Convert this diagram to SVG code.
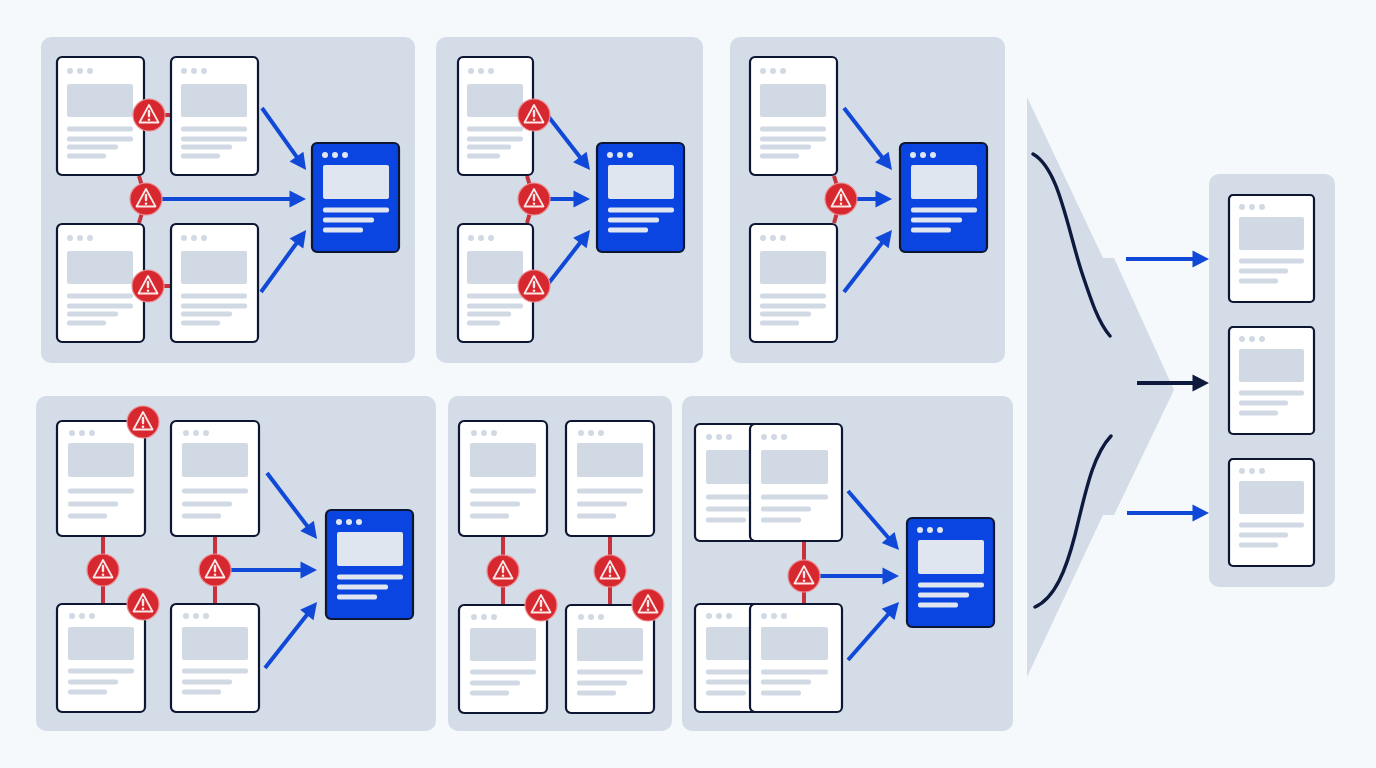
<svg xmlns="http://www.w3.org/2000/svg" width="1376" height="768" viewBox="0 0 1376 768">
<style>
.panel{fill:#d3dce7}
.card{fill:#fff;stroke:#0d1733;stroke-width:2.2}
.blue{fill:#0a45e2;stroke:#0d1733;stroke-width:2.2}
.g{fill:#d1d9e4}
.w{fill:#dfe6f0}
.arrow{fill:none;stroke:#1048d8;stroke-width:4;marker-end:url(#ah)}
.darrow{fill:none;stroke:#0d1a3e;stroke-width:4;marker-end:url(#ahd)}
.red{fill:none;stroke:#c8323c;stroke-width:4}
.curve{fill:none;stroke:#0d1a3e;stroke-width:3.4;stroke-linecap:round}
.bc{fill:#d7282f;stroke:#eb8f94;stroke-width:1.2}
.bt{fill:none;stroke:#fbe9e9;stroke-width:1.8;stroke-linejoin:round}
.bb{stroke:#fbe9e9;stroke-width:2.4;stroke-linecap:round}
.bd{fill:#fbe9e9}
</style>
<defs>
<marker id="ah" markerUnits="userSpaceOnUse" markerWidth="18" markerHeight="18" refX="10" refY="9" orient="auto"><path d="M0.5 0.5L17 9L0.5 17.5Z" fill="#1048d8"/></marker>
<marker id="ahd" markerUnits="userSpaceOnUse" markerWidth="18" markerHeight="18" refX="10" refY="9" orient="auto"><path d="M0.5 0.5L17 9L0.5 17.5Z" fill="#0d1a3e"/></marker>
<g id="dots"><circle cx="0" cy="0" r="3"/><circle cx="10" cy="0" r="3"/><circle cx="20" cy="0" r="3"/></g>
<g id="c4"><rect class="card" x="1" y="1" width="87" height="118" rx="5"/><use href="#dots" class="g" x="14" y="15"/><rect class="g" x="11" y="28" width="66" height="33" rx="2"/><rect class="g" x="11" y="70.5" width="66" height="5" rx="2"/><rect class="g" x="11" y="80.5" width="66" height="5" rx="2"/><rect class="g" x="11" y="88.5" width="51" height="5" rx="2"/><rect class="g" x="11" y="97.5" width="39" height="5" rx="2"/></g>
<g id="n4"><rect class="card" x="1" y="1" width="75" height="118" rx="5"/><use href="#dots" class="g" x="14" y="15"/><rect class="g" x="10" y="28" width="56" height="33" rx="2"/><rect class="g" x="10" y="70.5" width="56" height="5" rx="2"/><rect class="g" x="10" y="80.5" width="56" height="5" rx="2"/><rect class="g" x="10" y="88.5" width="44" height="5" rx="2"/><rect class="g" x="10" y="97.5" width="33" height="5" rx="2"/></g>
<g id="c3"><rect class="card" x="1" y="1" width="88" height="115" rx="5"/><use href="#dots" class="g" x="16" y="13"/><rect class="g" x="12" y="23" width="66" height="34" rx="2"/><rect class="g" x="12" y="68.5" width="66" height="5" rx="2"/><rect class="g" x="12" y="81.5" width="50" height="5" rx="2"/><rect class="g" x="12" y="93.5" width="39" height="5" rx="2"/></g>
<g id="c3s"><rect class="card" x="1" y="1" width="88" height="108" rx="5"/><use href="#dots" class="g" x="16" y="13"/><rect class="g" x="12" y="24" width="66" height="33" rx="2"/><rect class="g" x="12" y="65.5" width="66" height="5" rx="2"/><rect class="g" x="12" y="76.5" width="50" height="5" rx="2"/><rect class="g" x="12" y="86.5" width="39" height="5" rx="2"/></g>
<g id="d"><rect class="card" x="1" y="1" width="92" height="117" rx="5"/><use href="#dots" class="g" x="15" y="14"/><rect class="g" x="12" y="27" width="67" height="34" rx="2"/><rect class="g" x="12" y="71.5" width="67" height="5" rx="2"/><rect class="g" x="12" y="83.5" width="50" height="5" rx="2"/><rect class="g" x="12" y="94.5" width="40" height="5" rx="2"/></g>
<g id="ds"><rect class="card" x="1" y="1" width="92" height="108" rx="5"/><use href="#dots" class="g" x="15" y="13"/><rect class="g" x="12" y="24" width="67" height="33" rx="2"/><rect class="g" x="12" y="66.5" width="67" height="5" rx="2"/><rect class="g" x="12" y="76.5" width="50" height="5" rx="2"/><rect class="g" x="12" y="87.5" width="40" height="5" rx="2"/></g>
<g id="r"><rect class="card" x="1" y="1" width="85" height="107" rx="4"/><use href="#dots" class="g" x="14" y="13"/><rect class="g" x="11" y="23" width="65" height="33" rx="2"/><rect class="g" x="11" y="64.5" width="65" height="5" rx="2"/><rect class="g" x="11" y="74.5" width="49" height="5" rx="2"/><rect class="g" x="11" y="84.5" width="39" height="5" rx="2"/></g>
<g id="b"><rect class="blue" x="1" y="1" width="87" height="109" rx="5"/><use href="#dots" class="w" x="14" y="13"/><rect class="w" x="12" y="23" width="66" height="34" rx="2"/><rect class="w" x="12" y="65.5" width="66" height="5" rx="2"/><rect class="w" x="12" y="75.5" width="51" height="5" rx="2"/><rect class="w" x="12" y="85.5" width="40" height="5" rx="2"/></g>
<g id="warn"><circle class="bc" r="16"/><path class="bt" d="M0 -10L9.5 7.5H-9.5Z"/><line class="bb" x1="0" y1="-4" x2="0" y2="1"/><circle class="bd" cy="4.8" r="1.3"/></g>
</defs>
<rect width="1376" height="768" fill="#f5f9fc"/>
<g id="panels">
<rect class="panel" x="41" y="37" width="374" height="326" rx="10"/>
<rect class="panel" x="436" y="37" width="267" height="326" rx="10"/>
<rect class="panel" x="730" y="37" width="275" height="326" rx="10"/>
<rect class="panel" x="36" y="396" width="400" height="335" rx="10"/>
<rect class="panel" x="448" y="396" width="224" height="335" rx="10"/>
<rect class="panel" x="682" y="396" width="331" height="335" rx="10"/>
<rect class="panel" x="1209" y="174" width="126" height="413" rx="10"/>
<polygon id="funnel" class="panel" points="1027,97 1103,258 1114,258 1174,390 1114,515 1103,515 1027,677"/>
</g>
<g id="connectors">
<path class="red" d="M145 115H170"/>
<path class="red" d="M139 176L146 199L139 223"/>
<path class="red" d="M145 286H170"/>
<path class="red" d="M527 176L534 199L527 223"/>
<path class="red" d="M834 176L841 199L834 223"/>
<path class="red" d="M103 537V603"/>
<path class="red" d="M215 537V603"/>
<path class="red" d="M503 537V604"/>
<path class="red" d="M610 537V604"/>
<path class="red" d="M804 542V603"/>
<path class="arrow" d="M262 108L302 164.3"/>
<path class="arrow" d="M162 199H299"/>
<path class="arrow" d="M261 292L302 235.7"/>
<path class="arrow" d="M548 116L585.7 164.4"/>
<path class="arrow" d="M548 199H583"/>
<path class="arrow" d="M548 284L585.7 235.6"/>
<path class="arrow" d="M844 108L887.7 164.5"/>
<path class="arrow" d="M855 199H885"/>
<path class="arrow" d="M844 292L887.7 235.5"/>
<path class="arrow" d="M267 473L312.8 533.4"/>
<path class="arrow" d="M230 570H310"/>
<path class="arrow" d="M265 668L312.7 607.5"/>
<path class="arrow" d="M848 491L894.4 544.7"/>
<path class="arrow" d="M820 576H892"/>
<path class="arrow" d="M848 660L894.4 607.3"/>
<path class="arrow" d="M1126 259H1202"/>
<path class="darrow" d="M1137 383H1202"/>
<path class="arrow" d="M1127 513H1202"/>
<path class="curve" d="M1033 154C1058 168 1066 222 1081 270C1091 300 1098 322 1110 336"/>
<path class="curve" d="M1111 436C1092 456 1085 495 1075 535C1066 570 1055 598 1035 607"/>
</g>
<g id="n1" transform="translate(56 56)"><use href="#c4"/></g>
<g id="n2" transform="translate(170 56)"><use href="#c4"/></g>
<g id="n3" transform="translate(56 223)"><use href="#c4"/></g>
<g id="n4a" transform="translate(170 223)"><use href="#c4"/></g>
<g id="n5" transform="translate(311 142)"><use href="#b"/></g>
<g id="n6" transform="translate(457 56)"><use href="#n4"/></g>
<g id="n7" transform="translate(457 223)"><use href="#n4"/></g>
<g id="n8" transform="translate(596 142)"><use href="#b"/></g>
<g id="n9" transform="translate(749 56)"><use href="#c4"/></g>
<g id="n10" transform="translate(749 223)"><use href="#c4"/></g>
<g id="n11" transform="translate(899 142)"><use href="#b"/></g>
<g id="n12" transform="translate(56 420)"><use href="#c3"/></g>
<g id="n13" transform="translate(170 420)"><use href="#c3"/></g>
<g id="n14" transform="translate(56 603)"><use href="#c3s"/></g>
<g id="n15" transform="translate(170 603)"><use href="#c3s"/></g>
<g id="n16" transform="translate(325 509)"><use href="#b"/></g>
<g id="n17" transform="translate(458 420)"><use href="#c3"/></g>
<g id="n18" transform="translate(565 420)"><use href="#c3"/></g>
<g id="n19" transform="translate(458 604)"><use href="#c3s"/></g>
<g id="n20" transform="translate(565 604)"><use href="#c3s"/></g>
<g id="n21" transform="translate(694 423)"><use href="#d"/></g>
<g id="n22" transform="translate(749 423)"><use href="#d"/></g>
<g id="n23" transform="translate(694 603)"><use href="#ds"/></g>
<g id="n24" transform="translate(749 603)"><use href="#ds"/></g>
<g id="n25" transform="translate(906 517)"><use href="#b"/></g>
<g id="n26" transform="translate(1228 194)"><use href="#r"/></g>
<g id="n27" transform="translate(1228 326)"><use href="#r"/></g>
<g id="n28" transform="translate(1228 458)"><use href="#r"/></g>
<g id="w1" transform="translate(149 115)"><use href="#warn"/></g>
<g id="w2" transform="translate(146 199)"><use href="#warn"/></g>
<g id="w3" transform="translate(148 286)"><use href="#warn"/></g>
<g id="w4" transform="translate(534 115)"><use href="#warn"/></g>
<g id="w5" transform="translate(534 199)"><use href="#warn"/></g>
<g id="w6" transform="translate(534 286)"><use href="#warn"/></g>
<g id="w7" transform="translate(841 199)"><use href="#warn"/></g>
<g id="w8" transform="translate(143 422)"><use href="#warn"/></g>
<g id="w9" transform="translate(103 570)"><use href="#warn"/></g>
<g id="w10" transform="translate(215 570)"><use href="#warn"/></g>
<g id="w11" transform="translate(143 604)"><use href="#warn"/></g>
<g id="w12" transform="translate(503 571)"><use href="#warn"/></g>
<g id="w13" transform="translate(610 571)"><use href="#warn"/></g>
<g id="w14" transform="translate(541 605)"><use href="#warn"/></g>
<g id="w15" transform="translate(648 605)"><use href="#warn"/></g>
<g id="w16" transform="translate(804 576)"><use href="#warn"/></g>
</svg>
